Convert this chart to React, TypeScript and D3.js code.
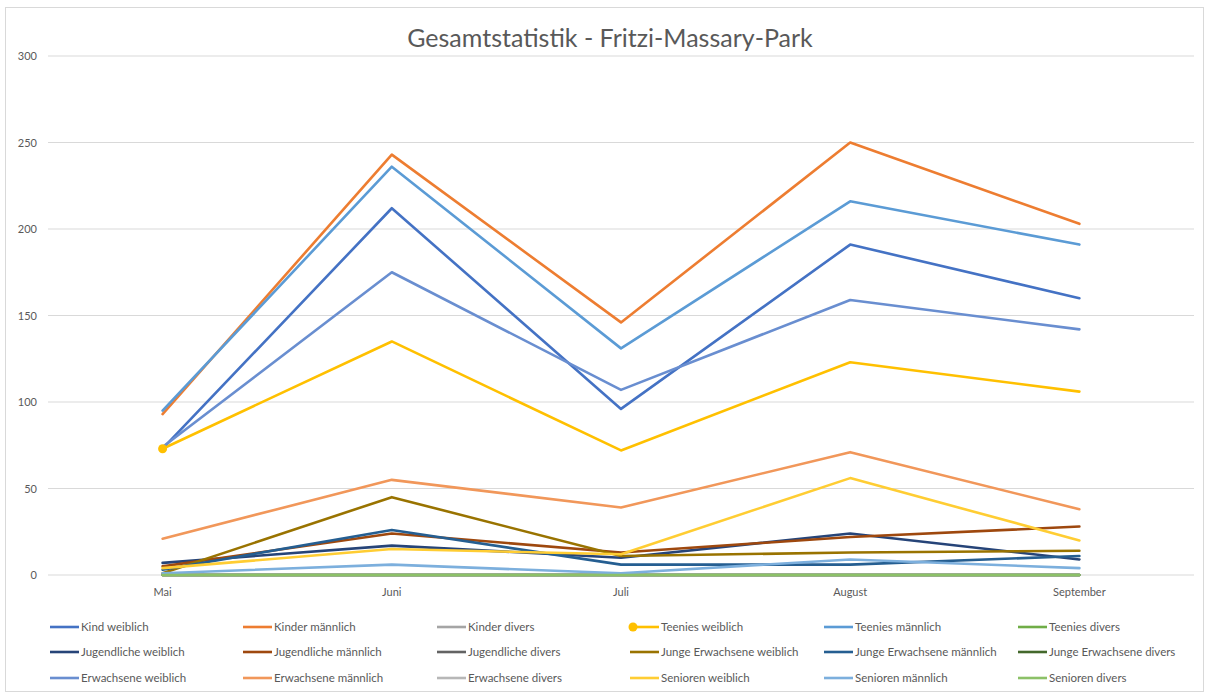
import React from "react";
import * as d3 from "d3";

const months = ["Mai", "Juni", "Juli", "August", "September"];
const yTicks = [0, 50, 100, 150, 200, 250, 300];

const seriesNames = [
  "Kind weiblich", "Kinder männlich", "Kinder divers",
  "Teenies weiblich", "Teenies männlich", "Teenies divers",
  "Jugendliche weiblich", "Jugendliche männlich", "Jugendliche divers",
  "Junge Erwachsene weiblich", "Junge Erwachsene männlich", "Junge Erwachsene divers",
  "Erwachsene weiblich", "Erwachsene männlich", "Erwachsene divers",
  "Senioren weiblich", "Senioren männlich", "Senioren divers",
];

const kindWeiblich = [73, 212, 96, 191, 160];
const kinderMaennlich = [93, 243, 146, 250, 203];
const kinderDivers = [0, 0, 0, 0, 0];
const teeniesWeiblich = [73, 135, 72, 123, 106];
const teeniesMaennlich = [95, 236, 131, 216, 191];
const teeniesDivers = [0, 0, 0, 0, 0];
const jugendlicheWeiblich = [7, 17, 10, 24, 9];
const jugendlicheMaennlich = [5, 24, 13, 22, 28];
const jugendlicheDivers = [0, 0, 0, 0, 0];
const jungeErwWeiblich = [1, 45, 11, 13, 14];
const jungeErwMaennlich = [3, 26, 6, 6, 11];
const jungeErwDivers = [0, 0, 0, 0, 0];
const erwachseneWeiblich = [74, 175, 107, 159, 142];
const erwachseneMaennlich = [21, 55, 39, 71, 38];
const erwachseneDivers = [0, 0, 0, 0, 0];
const seniorenWeiblich = [4, 15, 12, 56, 20];
const seniorenMaennlich = [1, 6, 1, 9, 4];
const seniorenDivers = [0, 0, 0, 0, 0];

const seriesValues = [
  kindWeiblich, kinderMaennlich, kinderDivers,
  teeniesWeiblich, teeniesMaennlich, teeniesDivers,
  jugendlicheWeiblich, jugendlicheMaennlich, jugendlicheDivers,
  jungeErwWeiblich, jungeErwMaennlich, jungeErwDivers,
  erwachseneWeiblich, erwachseneMaennlich, erwachseneDivers,
  seniorenWeiblich, seniorenMaennlich, seniorenDivers,
];

const colors = [
  "#4472C4", "#ED7D31", "#A5A5A5", "#FFC000", "#5B9BD5", "#70AD47",
  "#264478", "#9E480E", "#636363", "#997300", "#255E91", "#43682B",
  "#698ED0", "#F1975A", "#B7B7B7", "#FFCD33", "#7CAFDD", "#8CC168",
];

const W = 1209;
const H = 695;
const plotLeft = 48;
const plotRight = 1194;
const plotTop = 56;
const plotBottom = 575;
const font = "Lato, 'Open Sans', 'Noto Sans', sans-serif";

export default function App() {
  const x = d3.scaleBand<string>().domain(months).range([plotLeft, plotRight]);
  const y = d3.scaleLinear().domain([0, 300]).range([plotBottom, plotTop]);
  const line = d3
    .line<number>()
    .x((_, i) => (x(months[i]) as number) + x.bandwidth() / 2)
    .y((v) => y(v));

  const legendCols = [50, 243, 437, 630, 824, 1018];
  const legendRows = [627, 652, 678];

  return (
    <div style={{ position: "absolute", left: 0, top: 0 }}>
      <svg width={W} height={H} style={{ display: "block", background: "#fff" }}>
        <rect x={5.5} y={7.5} width={1198} height={684} fill="#fff" stroke="#D9D9D9" />
        <text x={610} y={47} textAnchor="middle" fontFamily={font} fontSize={25} fill="#595959">
          Gesamtstatistik - Fritzi-Massary-Park
        </text>
        {yTicks.map((t) => (
          <g key={t}>
            <line x1={plotLeft} x2={plotRight} y1={y(t)} y2={y(t)} stroke="#D9D9D9" strokeWidth={1} />
            <text x={37} y={y(t) + 4} textAnchor="end" fontFamily={font} fontSize={11} fill="#595959">
              {t}
            </text>
          </g>
        ))}
        {months.map((m) => (
          <text
            key={m}
            x={(x(m) as number) + x.bandwidth() / 2}
            y={596}
            textAnchor="middle"
            fontFamily={font}
            fontSize={11}
            fill="#595959"
          >
            {m}
          </text>
        ))}
        {seriesValues.map((vals, i) => (
          <path
            key={seriesNames[i]}
            d={line(vals) as string}
            fill="none"
            stroke={colors[i]}
            strokeWidth={2.6}
            strokeLinejoin="round"
            strokeLinecap="round"
          />
        ))}
        <circle
          cx={(x(months[0]) as number) + x.bandwidth() / 2}
          cy={y(teeniesWeiblich[0])}
          r={4.5}
          fill="#FFC000"
        />
        {seriesNames.map((name, i) => {
          const cx = legendCols[i % 6];
          const cy = legendRows[Math.floor(i / 6)];
          return (
            <g key={name}>
              <line x1={cx} x2={cx + 29} y1={cy} y2={cy} stroke={colors[i]} strokeWidth={2.6} />
              {i === 3 && <circle cx={cx + 3} cy={cy} r={4.5} fill={colors[i]} />}
              <text x={cx + 31} y={cy + 4} fontFamily={font} fontSize={11.5} fill="#595959">
                {name}
              </text>
            </g>
          );
        })}
      </svg>
    </div>
  );
}
